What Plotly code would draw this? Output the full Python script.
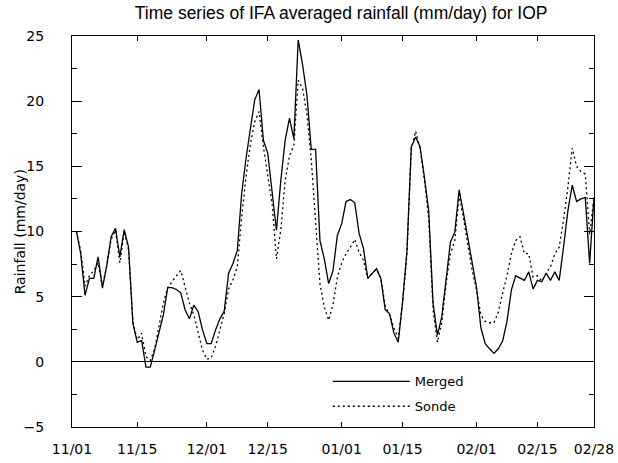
import plotly.graph_objects as go

days = list(range(1, 121))

merged = [10.05, 8.3, 5.1, 6.4, 6.4, 8.05, 5.65, 7.4, 9.6, 10.25,
          8.05, 10.15, 8.8, 2.95, 1.5, 1.65, -0.4, -0.4, 0.9, 2.2,
          3.6, 5.7, 5.7, 5.55, 5.3, 4.0, 3.3, 4.35, 3.85, 2.45,
          1.4, 1.4, 2.45, 3.3, 3.9, 6.8, 7.55, 8.55, 12.9, 15.6,
          17.8, 20.1, 20.9, 17.0, 16.0, 13.2, 10.1, 13.9, 17.0, 18.7,
          17.1, 24.7, 22.8, 20.5, 16.3, 16.3, 9.3, 7.9, 6.0, 7.0,
          9.7, 10.6, 12.3, 12.45, 12.2, 9.85, 8.7, 6.4, 6.8, 7.15,
          6.4, 4.0, 3.7, 2.2, 1.5, 4.6, 8.5, 16.5, 17.25, 16.5,
          14.2, 11.6, 4.5, 2.05, 3.45, 6.5, 9.2, 9.95, 13.2, 11.4,
          9.5, 7.5, 5.7, 2.6, 1.4, 1.0, 0.65, 1.0, 1.6, 3.1,
          5.5, 6.6, 6.4, 6.25, 6.9, 5.6, 6.25, 6.15, 6.8, 6.25,
          6.9, 6.25, 8.8, 11.6, 13.55, 12.3, 12.5, 12.6, 7.55, 12.65]

sonde = [10.0, 8.5, 5.8, 6.6, 7.0, 7.6, 5.8, 7.4, 9.4, 10.1,
         7.6, 10.0, 8.6, 3.1, 1.7, 2.2, 0.4, 0.1, 1.0, 2.7,
         4.5, 5.7, 6.2, 6.6, 7.0, 5.8, 4.5, 3.6, 2.2, 0.9,
         0.2, 0.3, 1.2, 2.5, 3.7, 5.6, 6.3, 7.3, 11.1, 14.2,
         16.7, 18.4, 19.2, 16.5, 14.4, 12.1, 7.9, 10.1, 13.9, 15.8,
         16.6, 21.6, 21.0, 19.0, 15.5, 10.5, 6.0, 4.2, 3.2, 4.4,
         6.5, 7.6, 8.3, 8.8, 9.4, 8.4, 7.8, 6.4, 6.8, 7.1,
         6.4, 4.3, 3.6, 2.6, 1.8, 4.6, 8.3, 16.3, 17.7, 16.4,
         14.0, 11.0, 4.0, 1.5, 3.0, 6.0, 8.3, 9.3, 12.8, 11.0,
         9.1, 7.0, 5.5, 3.6, 3.1, 3.0, 3.0, 3.8, 5.3, 6.6,
         8.3, 9.3, 9.6, 8.3, 8.3, 6.5, 6.6, 6.2, 6.8, 7.3,
         8.3, 8.8, 10.9, 13.4, 16.4, 15.0, 14.6, 14.4, 9.8, 12.6]

tick_pos = [0, 15, 31, 45, 62, 76, 93, 107, 120]
tick_text = ["11/01", "11/15", "12/01", "12/15", "01/01", "01/15", "02/01", "02/15", "02/28"]
y_ticks = [-5, 0, 5, 10, 15, 20, 25]
y_minor = [-2.5, 2.5, 7.5, 12.5, 17.5, 22.5]

fig = go.Figure()
fig.add_trace(go.Scatter(x=days, y=merged, mode="lines", name="Merged",
                         line=dict(color="black", width=1.3), legendgroup="m"))
fig.add_trace(go.Scatter(x=days, y=sonde, mode="lines", name="Sonde",
                         line=dict(color="black", width=1.3, dash="2px,3px"), legendgroup="s"))

tickfont = dict(family="DejaVu Sans", size=14, color="black")

fig.update_layout(
    width=618, height=463,
    margin=dict(l=72, r=24, t=36, b=36, autoexpand=False),
    plot_bgcolor="white", paper_bgcolor="white",
    title=dict(text="Time series of IFA averaged rainfall (mm/day) for IOP",
               x=0.552, xanchor="center", y=0.972, yanchor="middle",
               font=dict(family="Liberation Sans", size=17.5, color="black")),
    showlegend=True,
    legend=dict(x=0.49, y=0.155, xanchor="left", yanchor="top",
                itemwidth=77, tracegroupgap=5,
                font=dict(family="DejaVu Sans", size=13, color="black"),
                bgcolor="rgba(0,0,0,0)"),
    xaxis=dict(range=[0, 120], tickmode="array", tickvals=tick_pos, ticktext=tick_text,
               ticks="inside", ticklen=5, tickcolor="black", showline=True, linecolor="black",
               linewidth=1.2, mirror="ticks", showgrid=False, zeroline=False, automargin=False,
               tickfont=tickfont, ticklabelstandoff=9),
    yaxis=dict(range=[-5, 25], tickmode="array", tickvals=y_ticks,
               ticks="inside", ticklen=10, tickcolor="black", showline=True, linecolor="black",
               linewidth=1.2, mirror="ticks", showgrid=False, automargin=False,
               zeroline=True, zerolinecolor="black", zerolinewidth=1.2,
               minor=dict(tickvals=y_minor, ticks="inside", ticklen=5,
                          tickcolor="black", showgrid=False),
               tickfont=tickfont, ticklabelstandoff=24),
    annotations=[dict(text="Rainfall (mm/day)", xref="paper", yref="paper",
                      x=-0.1, y=0.5, xanchor="center", yanchor="middle",
                      textangle=-90, showarrow=False,
                      font=dict(family="DejaVu Sans", size=14, color="black"))],
)

fig.write_html("out.html")
